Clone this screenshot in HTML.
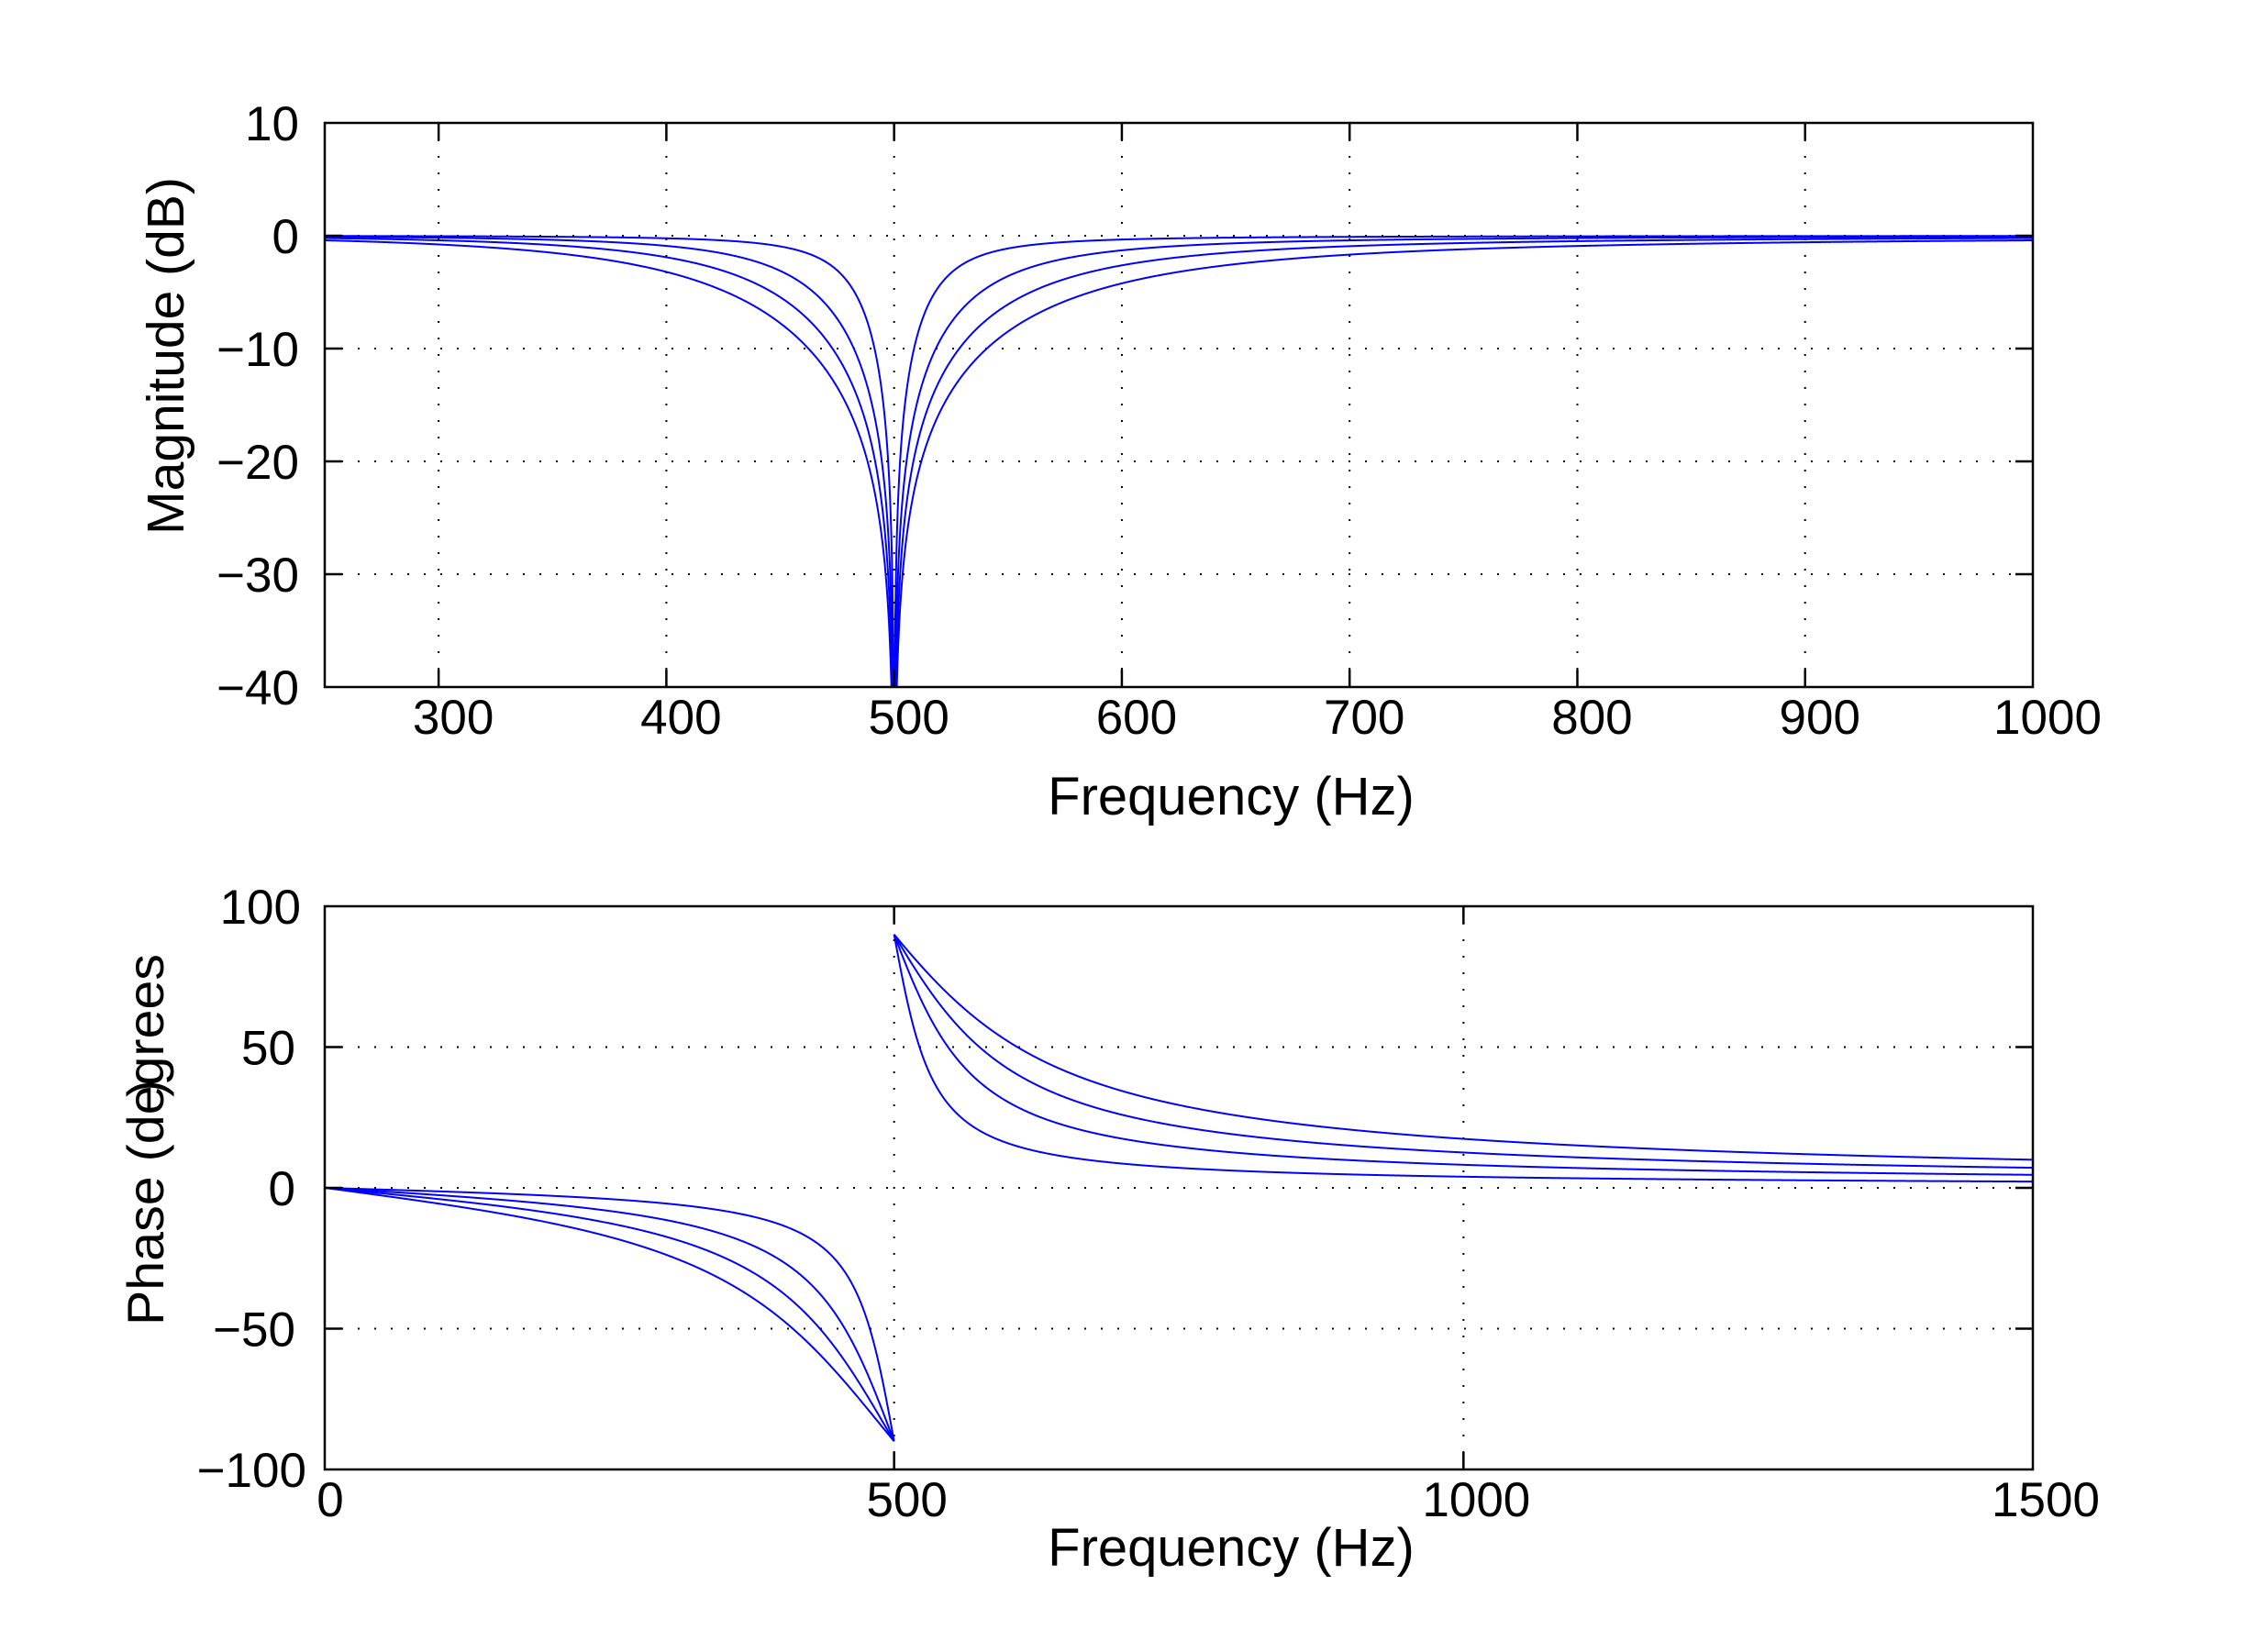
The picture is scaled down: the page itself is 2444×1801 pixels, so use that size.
<!DOCTYPE html>
<html><head><meta charset="utf-8"><style>
html,body{margin:0;padding:0;background:#fff}
svg{display:block}
text{font-family:"Liberation Sans",Arial,sans-serif;fill:#000}
</style></head><body>
<svg id="s" width="2444" height="1801" viewBox="0 0 2444 1801" xmlns="http://www.w3.org/2000/svg">
<defs>
<clipPath id="c1"><rect x="354" y="134" width="1862" height="615"/></clipPath>
<clipPath id="c2"><rect x="354" y="988" width="1862" height="614"/></clipPath>
</defs>
<g id="grid" stroke="#000" stroke-width="2" stroke-dasharray="2,16" fill="none"></g>
<g id="curves" fill="none" stroke="#0000ff" stroke-width="2"></g>
<g id="axes" stroke="#000" stroke-width="2.5" fill="none">
<rect x="354" y="134" width="1862" height="615"/>
<rect x="354" y="988" width="1862" height="614"/>
</g>
<g id="ticks" stroke="#000" stroke-width="2.5"></g>
<g id="labels" font-size="53"></g>
<text x="1342" y="888" font-size="58" text-anchor="middle">Frequency (Hz)</text>
<text x="1342" y="1707" font-size="58" text-anchor="middle">Frequency (Hz)</text>
<text transform="translate(200,388) rotate(-90)" font-size="57" text-anchor="middle">Magnitude (dB)</text>
<text transform="translate(178,1445) rotate(-90)" font-size="56" textLength="405" lengthAdjust="spacingAndGlyphs">Phase (degrees</text>
<text transform="translate(178,1196) rotate(-90)" font-size="56">)</text>
</svg>
<script>
var NS="http://www.w3.org/2000/svg";
function el(p,t,a,txt){var e=document.createElementNS(NS,t);for(var k in a)e.setAttribute(k,a[k]);if(txt!=null)e.textContent=txt;document.getElementById(p).appendChild(e);return e;}
var L=354,R=2216,T1=134,B1=749,T2=988,B2=1602;
function x1(f){return L+(f-250)*(R-L)/750;}
function y1(d){return T1+(10-d)*(B1-T1)/50;}
function x2(f){return L+f*(R-L)/1500;}
function y2(p){return T2+(100-p)*(B2-T2)/200;}
[300,400,500,600,700,800,900].forEach(function(f){var x=x1(f);
 el("grid","line",{x1:x,y1:T1,x2:x,y2:B1});
 el("ticks","line",{x1:x,y1:T1,x2:x,y2:T1+19});el("ticks","line",{x1:x,y1:B1,x2:x,y2:B1-19});});
[300,400,500,600,700,800,900,1000].forEach(function(f){el("labels","text",{x:x1(f)+16,y:800,"text-anchor":"middle"},String(f));});
[0,-10,-20,-30].forEach(function(d){var y=y1(d);
 el("grid","line",{x1:L,y1:y,x2:R,y2:y});
 el("ticks","line",{x1:L,y1:y,x2:L+19,y2:y});el("ticks","line",{x1:R,y1:y,x2:R-19,y2:y});});
[10,0,-10,-20,-30,-40].forEach(function(d){el("labels","text",{x:326,y:y1(d)+19,"text-anchor":"end"},(d<0?"\u2212":"")+Math.abs(d));});
[500,1000].forEach(function(f){var x=x2(f);
 el("grid","line",{x1:x,y1:T2,x2:x,y2:B2});
 el("ticks","line",{x1:x,y1:T2,x2:x,y2:T2+19});el("ticks","line",{x1:x,y1:B2,x2:x,y2:B2-19});});
[0,500,1000,1500].forEach(function(f){el("labels","text",{x:x2(f)+6+(f>0?8:0),y:1653,"text-anchor":"middle"},String(f));});
[50,0,-50].forEach(function(p){var y=y2(p);
 el("grid","line",{x1:L,y1:y,x2:R,y2:y});
 el("ticks","line",{x1:L,y1:y,x2:L+19,y2:y});el("ticks","line",{x1:R,y1:y,x2:R-19,y2:y});});
[100,50,0,-50,-100].forEach(function(p){el("labels","text",{x:p==-100?334:(p==100?328:322),y:y2(p)+19,"text-anchor":"end"},(p<0?"\u2212":"")+Math.abs(p));});
var f0=500,Bs=[52,108,167,235];
Bs.forEach(function(B){
 var d="",first=true;
 for(var i=0;i<=3000;i++){var f=250+750*i/3000;var a=f0*f0-f*f,b=f*B;
  var m=10*Math.log10((a*a)/(a*a+b*b)+1e-12);if(m<-45)m=-45;
  d+=(first?"M":"L")+x1(f).toFixed(2)+","+y1(m).toFixed(2);first=false;}
 el("curves","path",{d:d,"clip-path":"url(#c1)"});
 var d1="",d2="";
 for(var i=0;i<=1000;i++){var f=500*i/1000;if(f>=499.99)f=499.99;var a=f0*f0-f*f;var p=-Math.atan(f*B/a)*180/Math.PI;
  d1+=(i?"L":"M")+x2(f).toFixed(2)+","+y2(p).toFixed(2);}
 for(var i=0;i<=2000;i++){var f=500.01+999.99*i/2000;var a=f0*f0-f*f;var p=-Math.atan(f*B/a)*180/Math.PI;
  d2+=(i?"L":"M")+x2(f).toFixed(2)+","+y2(p).toFixed(2);}
 el("curves","path",{d:d1,"clip-path":"url(#c2)"});
 el("curves","path",{d:d2,"clip-path":"url(#c2)"});
});
</script>
</body></html>
